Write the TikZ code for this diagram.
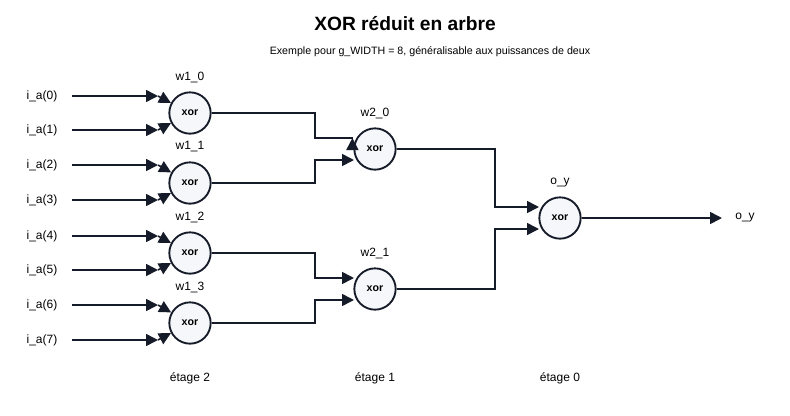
\documentclass[tikz,border=0pt]{standalone}
\usepackage{fontspec}
\setmainfont{Liberation Sans}
\usetikzlibrary{arrows.meta}
\definecolor{ink}{HTML}{161B29}
\definecolor{gatefill}{HTML}{F5F7FA}
\begin{document}
\begin{tikzpicture}[x=0.75pt,y=-0.75pt,
  gate/.style={circle,draw=ink,line width=1.4pt,fill=gatefill,minimum size=31pt,inner sep=0pt,font=\footnotesize\bfseries},
  wire/.style={draw=ink,line width=1.2pt},
  arr/.style={wire,-{Triangle[length=9pt,width=9pt]}},
  lbl/.style={font=\small}]
\useasboundingbox (0,0) rectangle (790,415);
\node[font=\Large\bfseries] (title) at (405,24) {XOR réduit en arbre};
\node[font=\footnotesize] (sub) at (430,52) {Exemple pour g\_WIDTH = 8, généralisable aux puissances de deux};
% etage 2
\foreach \k in {0,...,3}{
  \node[gate] (w1\k) at (190,113+70*\k) {xor};
  \node[lbl] (l1\k) at (190,77+70*\k) {w1\_\k};
}
\foreach \i/\y in {0/96,1/130,2/165,3/200,4/236,5/270,6/305,7/340}{
  \pgfmathtruncatemacro{\g}{int(\i/2)}
  \node[lbl] (in\i) at (42,\y) {i\_a(\i)};
  \coordinate (c\i) at (158,\y);
  \draw[arr] (72,\y) -- (c\i);
  \draw[arr] (c\i) -- (w1\g);
}
% etage 1
\node[gate] (w20) at (375,149) {xor};
\node[lbl] (l20) at (375,113) {w2\_0};
\node[gate] (w21) at (375,289) {xor};
\node[lbl] (l21) at (375,253) {w2\_1};
\draw[arr] (w10.east) -| (315,138) -- (w20.west |- 0,138) ++(-1,0);
\draw[arr] (w11.east) -| (315,160) -- (354,160);
\draw[arr] (w12.east) -| (315,278) -- (354,278);
\draw[arr] (w13.east) -| (315,300) -- (354,300);
% etage 0
\node[gate] (oy) at (560,218) {xor};
\node[lbl] (loy) at (560,183) {o\_y};
\draw[arr] (w20.east) -| (495,207) -- (539,207);
\draw[arr] (w21.east) -| (495,229) -- (539,229);
\node[lbl] (out) at (745,218) {o\_y};
\draw[arr] (oy.east) -- (722,218);
% etages
\node[lbl] (e2) at (190,378) {étage 2};
\node[lbl] (e1) at (375,378) {étage 1};
\node[lbl] (e0) at (560,378) {étage 0};
\end{tikzpicture}
\end{document}
